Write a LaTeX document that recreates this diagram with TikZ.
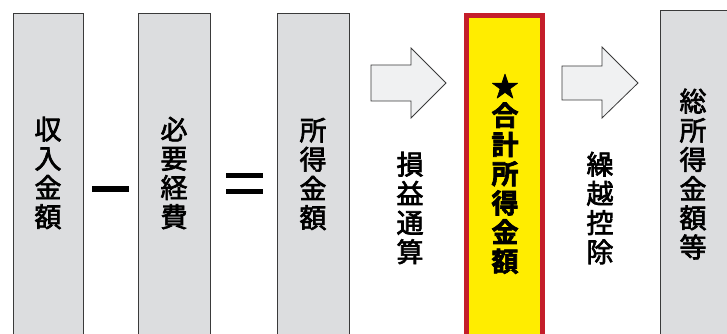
\documentclass[tikz,border=0pt]{standalone}
\usepackage{fontspec}
\newfontfamily\jp[FakeBold=2.5]{Noto Sans CJK JP}
\newfontfamily\jpbold[FakeBold=2.5]{Noto Sans CJK JP Bold}
\definecolor{boxgray}{HTML}{DCDDDF}
\definecolor{edgegray}{HTML}{3A3A3A}
\definecolor{arrowfill}{HTML}{F0F1F2}
\definecolor{hlyellow}{HTML}{FFED00}
\definecolor{hlred}{HTML}{C41E2A}
\begin{document}
\begin{tikzpicture}[x=1pt,y=-1pt,
  graybox/.style={draw=edgegray,fill=boxgray,line width=0.9pt,anchor=north west,inner sep=0pt},
  vtext/.style={font=\jp\fontsize{27}{29.2}\selectfont,align=center,text=black,inner sep=0pt},
  blockarrow/.style={draw=edgegray,fill=arrowfill,line width=0.8pt,line join=miter},
  opbar/.style={fill=black,draw=none}]
\useasboundingbox (0,0) rectangle (727,334);
\clip (0,0) rectangle (727,334);
% boxes
\draw[graybox] (13,13) rectangle (83,340);
\draw[graybox] (138,13) rectangle (210,340);
\draw[graybox] (277,13) rectangle (349,340);
\draw[graybox] (660,10) rectangle (740,340);
\draw[draw=hlred,fill=hlyellow,line width=5pt] (466.5,15.5) rectangle (542.5,345);
% texts
\node[vtext] (t1) at (48,173) {収\\入\\金\\額};
\node[vtext] (t2) at (174,173) {必\\要\\経\\費};
\node[vtext] (t3) at (313,174) {所\\得\\金\\額};
\node[vtext] (t4) at (410,208) {損\\益\\通\\算};
\node[vtext,font=\jpbold\fontsize{27}{29.2}\selectfont] (t5) at (505,174) {★\\合\\計\\所\\得\\金\\額};
\node[vtext] (t6) at (600,208) {繰\\越\\控\\除};
\node[vtext] (t7) at (693,174) {総\\所\\得\\金\\額\\等};
% operators
\fill[opbar] (92,186) rectangle (129,192);
\fill[opbar] (226,172.5) rectangle (263,177.5);
\fill[opbar] (226,188.5) rectangle (263,193.5);
% block arrows
\draw[blockarrow] (371,65) -- (411,65) -- (411,48) -- (446,83) -- (411,118) -- (411,101) -- (371,101) -- cycle;
\draw[blockarrow] (562,66) -- (602,66) -- (602,47) -- (638,83) -- (602,118) -- (602,100) -- (562,100) -- cycle;
\end{tikzpicture}
\end{document}
